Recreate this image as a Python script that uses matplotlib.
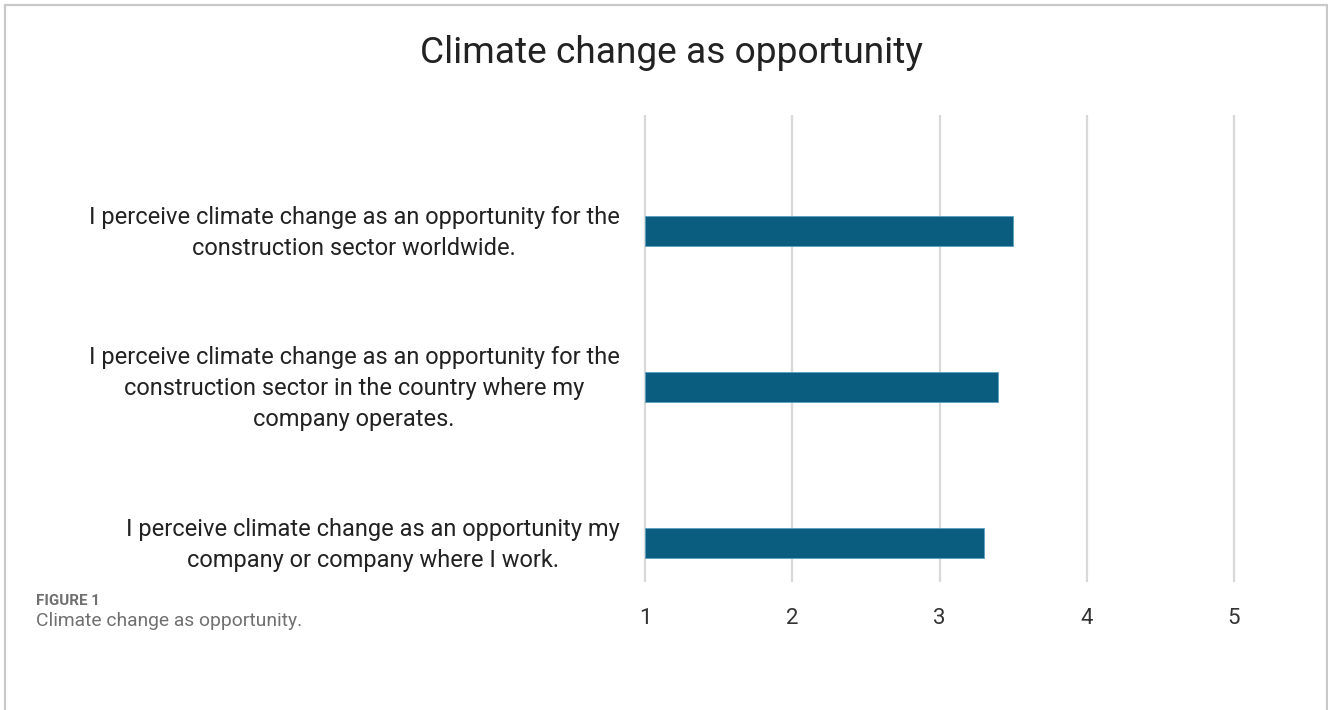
import matplotlib
matplotlib.use("Agg")
import matplotlib.pyplot as plt
from matplotlib.patches import Rectangle
from matplotlib.transforms import ScaledTranslation

title = "Climate change as opportunity"
categories = [
    "I perceive climate change as an opportunity my\ncompany or company where I work.",
    "I perceive climate change as an opportunity for the\nconstruction sector in the country where my\ncompany operates.",
    "I perceive climate change as an opportunity for the\nconstruction sector worldwide.",
]
values = [3.3, 3.4, 3.5]
xticks = [1, 2, 3, 4, 5]
caption_label = "FIGURE 1"
caption_text = "Climate change as opportunity."

W, H = 1328, 710
fig = plt.figure(figsize=(W / 100, H / 100), dpi=100)
plt.rcParams['font.family'] = ['Roboto', 'DejaVu Sans']

# outer frame (open at bottom)
fig.patches.append(Rectangle((4.5 / W, -0.1), (1326.5 - 4.5) / W, 1.1 - 4.5 / H,
                             transform=fig.transFigure, fill=False,
                             edgecolor='#c9c9c9', linewidth=1.6))

x0, x1 = 0.95, 5.05
ppu = (1234 - 645) / 4.0
left_px = 645 - (1 - x0) * ppu
right_px = 1234 + (x1 - 5) * ppu
y_lo, y_hi = -0.25, 2.744
ax = fig.add_axes([left_px / W, 1 - 582 / H, (right_px - left_px) / W, (582 - 115) / H])

ypos = list(range(len(categories)))
ax.barh(ypos, [v - 1 for v in values], left=1, height=0.19, color='#0b5d80',
        edgecolor='#5aa0c0', linewidth=0.6, zorder=3)
ax.set_xlim(x0, x1)
ax.set_ylim(y_lo, y_hi)
ax.set_xticks(xticks)
ax.set_xticklabels([str(t) for t in xticks], fontsize=16, color='#333333')
ax.set_yticks(ypos)
ax.set_yticklabels(categories, fontsize=17, color='#222222', multialignment='center',
                   linespacing=1.46)
ax.tick_params(axis='both', length=0)
ax.tick_params(axis='x', pad=19)
ax.tick_params(axis='y', pad=13)
shift = ScaledTranslation(0, 5 / 100, fig.dpi_scale_trans)
for lbl in ax.get_yticklabels():
    lbl.set_transform(lbl.get_transform() + shift)
for s in ax.spines.values():
    s.set_visible(False)
ax.grid(axis='x', color='#d9d9d9', linewidth=1.6, zorder=0)
ax.set_axisbelow(True)

fig.text(672 / W, 1 - 53 / H, title, ha='center', va='center', fontsize=26.7, color='#222222')
fig.text(36 / W, 1 - 601 / H, caption_label, ha='left', va='center', fontsize=10.9,
         fontweight='bold', color='#707070')
fig.text(36 / W, 1 - 621 / H, caption_text, ha='left', va='center', fontsize=13.9,
         color='#707070')

fig.savefig("out.png", dpi=100)
